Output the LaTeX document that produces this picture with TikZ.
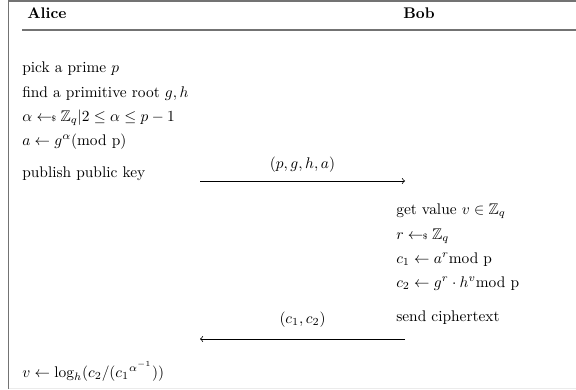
\documentclass[tikz,border=0pt]{standalone}
\usepackage{amsmath,amssymb}
\usetikzlibrary{positioning}
\newcommand{\rnd}{\mathrel{\leftarrow\!\!\mbox{\tiny\$}}}

\begin{document}
\begin{tikzpicture}[x=0.649pt, y=-0.649pt,
        party/.style={anchor=base west, font=\bfseries, inner sep=0pt},
        txt/.style={anchor=base west, inner sep=0pt},
        frame/.style={draw=black!55, line width=1.2pt},
        msg/.style={->, line width=0.5pt}]

    \useasboundingbox (0,0) rectangle (576,389);
    \draw[frame] (8.5,389) -- (8.5,1) -- (576,1);
    \draw[black!8] (8.5,388.5) -- (576,388.5);

    % header
    \node[party] (alice) at (27,18) {Alice};
    \node[party] (bob) at (403,18) {Bob};
    \draw[black!55, line width=1pt] (22,30) -- (576,30);

    % Alice: key generation
    \node[txt] (prime) at (22,72) {pick a prime $p$};
    \node[txt] (root) at (22,97) {find a primitive root $g,h$};
    \node[txt] (alpha) at (22,121) {$\alpha \rnd \mathbb{Z}_q | 2 \leq \alpha \leq p-1$};
    \node[txt] (pub) at (22,145) {$a \leftarrow g^{\alpha}\text{(mod p)}$};
    \node[txt] (publish) at (22,177) {publish public key};

    % Bob: encryption
    \node[txt] (value) at (396,214) {get value $v \in \mathbb{Z}_q$};
    \node[txt] (rand) at (396,239) {$r \rnd \mathbb{Z}_q$};
    \node[txt] (cone) at (396,263) {$c_1 \leftarrow a^r\text{mod p}$};
    \node[txt] (ctwo) at (396,287) {$c_2 \leftarrow g^r \cdot h^v\text{mod p}$};
    \node[txt] (send) at (396,321) {send ciphertext};

    % Alice: decryption
    \node[txt] (dec) at (22,377) {$v \leftarrow \log_h(c_2/({c_1}^{\alpha^{-1}}))$};

    % messages
    \coordinate (kfrom) at (200,181);
    \coordinate (kto) at (405,181);
    \coordinate (cfrom) at (405,339);
    \coordinate (cto) at (200,339);
    \draw[msg] (kfrom) -- node[above=2pt] (key) {$(p,g,h,a)$} (kto);
    \draw[msg] (cfrom) -- node[above=4pt] (cipher) {$(c_1,c_2)$} (cto);
\end{tikzpicture}
\end{document}
